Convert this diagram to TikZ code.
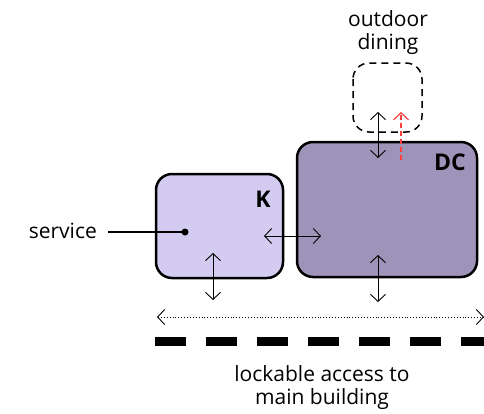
\documentclass[tikz,border=0pt]{standalone}
\usepackage{fontspec}
\setmainfont{Open Sans}
\usetikzlibrary{arrows.meta}
\definecolor{kfill}{HTML}{D4CCF0}
\definecolor{dcfill}{HTML}{9E93B8}
\definecolor{redarr}{HTML}{FF4040}
\tikzset{
  room/.style={draw=black, line width=2.5pt, rounded corners=16pt},
  lbl/.style={font=\fontsize{21}{23}\selectfont, align=center, inner sep=0pt},
  roomlbl/.style={font=\bfseries\fontsize{23}{26}\selectfont, inner sep=0pt},
  dbl/.style={line width=0.9pt, {Straight Barb[length=7pt,width=15pt]}-{Straight Barb[length=7pt,width=15pt]}},
}
\begin{document}
\begin{tikzpicture}[x=1pt,y=-1pt]
\useasboundingbox (0,0) rectangle (484,413);
% rooms
\draw[room, fill=kfill] (156,174) rectangle (283,278);
\draw[room, fill=dcfill] (297,142) rectangle (477,277);
\draw[line width=1.5pt, dash pattern=on 7pt off 5pt, rounded corners=16pt] (353,63) rectangle (422,132);
\node[roomlbl] (K) at (263,199) {K};
\node[roomlbl] (DC) at (450,162) {DC};
% labels
\node[lbl] (out) at (388,33) {outdoor\\dining};
\node[lbl, anchor=east] (serv) at (97,231) {service};
\coordinate (sdot) at (185,232);
\coordinate (sline) at (108,232);
\draw[line width=1.3pt] (sline) -- (sdot);
\fill (sdot) circle (3.5pt);
\node[lbl] (lock) at (322,388) {lockable access to\\main building};
% arrows
\coordinate (a1) at (264,236); \coordinate (a2) at (321,236);
\draw[dbl] (a1) -- (a2);
\coordinate (b1) at (213,253); \coordinate (b2) at (213,300);
\draw[dbl] (b1) -- (b2);
\coordinate (c1) at (378,255); \coordinate (c2) at (378,302);
\draw[dbl] (c1) -- (c2);
\coordinate (d1) at (378,112); \coordinate (d2) at (378,158);
\draw[dbl] (d1) -- (d2);
\coordinate (r1) at (401,160); \coordinate (r2) at (401,112);
\draw[redarr, line width=1.2pt, dash pattern=on 5pt off 3pt, -{Straight Barb[length=7pt,width=15pt]}] (r1) -- (r2);
\coordinate (e1) at (157,317); \coordinate (e2) at (484,317);
\draw[line width=0.9pt, dotted, {Straight Barb[length=7pt,width=15pt]}-{Straight Barb[length=7pt,width=15pt]}] (e1) -- (e2);
\coordinate (f1) at (155,341); \coordinate (f2) at (484,341);
\draw[line width=9pt, dash pattern=on 31pt off 20pt] (f1) -- (f2);
\end{tikzpicture}
\end{document}
